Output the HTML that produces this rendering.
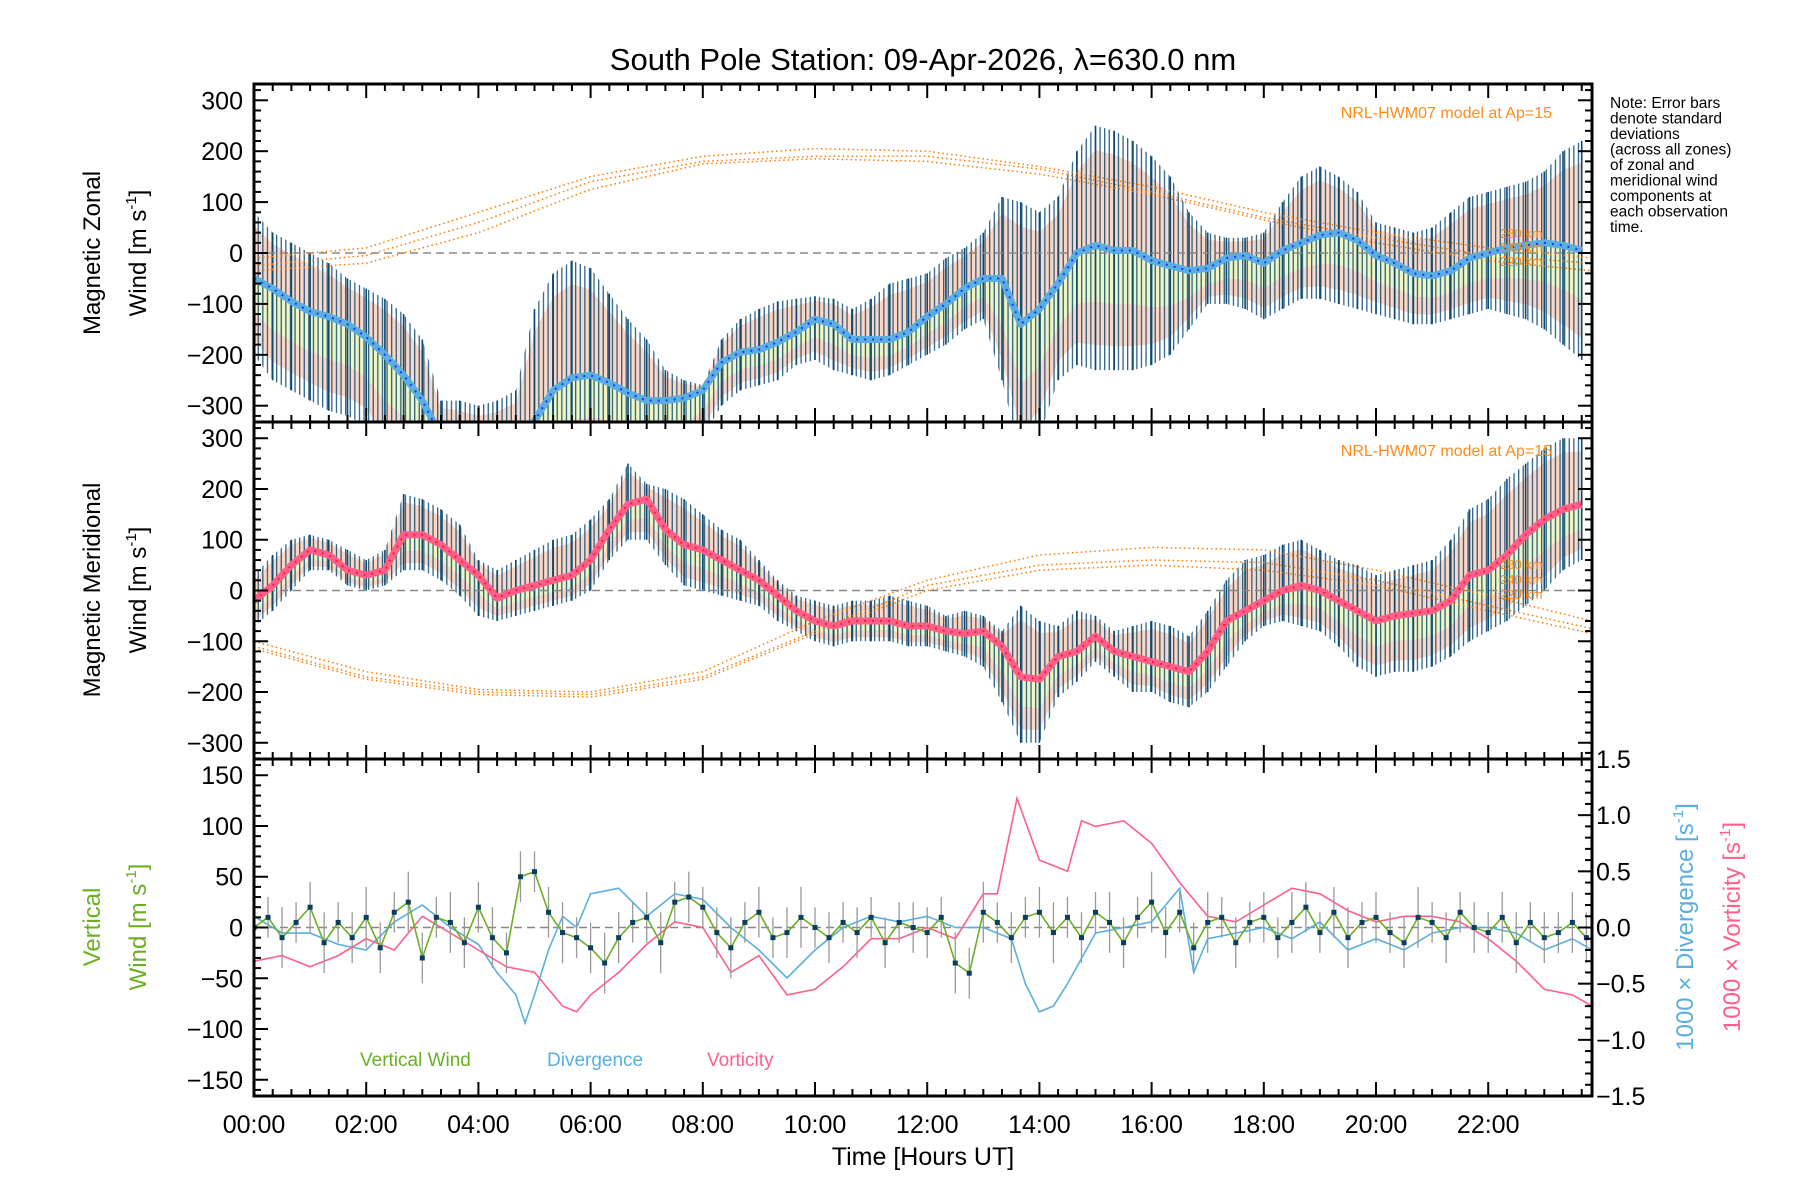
<!DOCTYPE html>
<html><head><meta charset="utf-8"><title>South Pole Station winds</title>
<style>
html,body{margin:0;padding:0;background:#fff;}
svg{display:block;font-family:"Liberation Sans",sans-serif;}
</style></head>
<body>
<svg id="chart" width="1800" height="1200" viewBox="0 0 1800 1200" xmlns="http://www.w3.org/2000/svg">
<defs>
<pattern id="hatch" width="4.6" height="10" patternUnits="userSpaceOnUse">
<rect x="0" y="0" width="1.3" height="10" fill="#0b4a72"/>
</pattern>
<clipPath id="clip1"><rect x="254" y="84" width="1338" height="338"/></clipPath>
<clipPath id="clip2"><rect x="254" y="422" width="1338" height="337"/></clipPath>
<clipPath id="clip3"><rect x="254" y="759" width="1338" height="337"/></clipPath>
</defs>
<rect x="0" y="0" width="1800" height="1200" fill="#fff"/>
<text x="923" y="70" font-size="31" text-anchor="middle">South Pole Station: 09-Apr-2026, λ=630.0 nm</text>
<g id="g1" clip-path="url(#clip1)"></g>
<g id="g2" clip-path="url(#clip2)"></g>
<g id="g3" clip-path="url(#clip3)"></g>
<g id="axes"></g>

<text transform="translate(100,253) rotate(-90)" font-size="24" text-anchor="middle">Magnetic Zonal</text>
<text transform="translate(146,253) rotate(-90)" font-size="24" text-anchor="middle">Wind [m s<tspan font-size="15" dy="-10">-1</tspan><tspan dy="10">]</tspan></text>
<text transform="translate(100,590) rotate(-90)" font-size="24" text-anchor="middle">Magnetic Meridional</text>
<text transform="translate(146,590) rotate(-90)" font-size="24" text-anchor="middle">Wind [m s<tspan font-size="15" dy="-10">-1</tspan><tspan dy="10">]</tspan></text>
<text transform="translate(100,927) rotate(-90)" font-size="24" text-anchor="middle" fill="#6ab023">Vertical</text>
<text transform="translate(146,927) rotate(-90)" font-size="24" text-anchor="middle" fill="#6ab023">Wind [m s<tspan font-size="15" dy="-10">-1</tspan><tspan dy="10">]</tspan></text>
<text transform="translate(1693,927) rotate(-90)" font-size="24" text-anchor="middle" fill="#5aafe0">1000 × Divergence [s<tspan font-size="15" dy="-10">-1</tspan><tspan dy="10">]</tspan></text>
<text transform="translate(1740,927) rotate(-90)" font-size="24" text-anchor="middle" fill="#ff5f8a">1000 × Vorticity [s<tspan font-size="15" dy="-10">-1</tspan><tspan dy="10">]</tspan></text>
<text x="923" y="1165" font-size="25" text-anchor="middle">Time [Hours UT]</text>

<g font-size="15.5">
<text x="1610" y="108">Note: Error bars</text>
<text x="1610" y="123.5">denote standard</text>
<text x="1610" y="139">deviations</text>
<text x="1610" y="154.5">(across all zones)</text>
<text x="1610" y="170">of zonal and</text>
<text x="1610" y="185.5">meridional wind</text>
<text x="1610" y="201">components at</text>
<text x="1610" y="216.5">each observation</text>
<text x="1610" y="232">time.</text>
</g>
<text x="1552" y="118" font-size="16" fill="#ff8c1a" text-anchor="end">NRL-HWM07 model at Ap=15</text>
<text x="1552" y="456" font-size="16" fill="#ff8c1a" text-anchor="end">NRL-HWM07 model at Ap=15</text>
<g font-size="13" fill="#ff8c1a">
<text x="1500" y="238">280 km</text><text x="1500" y="252">240 km</text><text x="1500" y="266">220 km</text>
<text x="1500" y="569">280 km</text><text x="1500" y="584">240 km</text><text x="1500" y="599">220 km</text>
</g>
<g font-size="19">
<text x="360" y="1066" fill="#6ab023">Vertical Wind</text>
<text x="547" y="1066" fill="#5aafe0">Divergence</text>
<text x="707" y="1066" fill="#ff5f8a">Vorticity</text>
</g>
</svg>
<script>
// ---- data (20-minute samples, hours = index/3) ----
const zonalCenter = [-50,-70,-95,-115,-125,-140,-165,-200,-240,-290,-360,-390,-400,-400,-390,-330,-270,-245,-240,-255,-275,-290,-290,-285,-270,-215,-195,-190,-175,-155,-130,-140,-170,-170,-170,-155,-125,-100,-70,-50,-50,-140,-110,-60,0,15,5,5,-15,-25,-35,-30,-10,-5,-20,5,20,35,40,25,-5,-20,-40,-45,-35,-10,0,10,15,20,15,5];
const zonalUpper = [80,40,20,0,-20,-50,-70,-90,-120,-170,-290,-290,-300,-290,-270,-110,-40,-15,-30,-80,-130,-170,-230,-250,-260,-170,-130,-110,-95,-90,-85,-90,-110,-90,-60,-50,-40,-10,10,40,110,100,80,110,200,250,240,220,190,150,80,40,30,30,40,100,150,170,150,120,60,50,40,50,80,110,120,130,140,160,200,220];
const zonalLower = [-200,-250,-270,-290,-310,-320,-340,-400,-420,-450,-460,-480,-480,-480,-470,-460,-440,-430,-420,-420,-430,-430,-420,-400,-360,-300,-270,-260,-250,-220,-210,-230,-240,-250,-240,-220,-200,-180,-150,-130,-250,-400,-360,-250,-220,-230,-230,-230,-220,-200,-150,-100,-100,-110,-130,-110,-90,-90,-100,-110,-120,-130,-140,-140,-130,-120,-110,-120,-130,-150,-180,-210];
const meridCenter = [-20,10,50,80,70,40,30,40,110,110,90,60,30,-15,0,10,20,30,60,120,170,180,120,90,80,60,40,20,-10,-40,-60,-70,-60,-60,-60,-70,-70,-80,-85,-80,-110,-170,-175,-130,-120,-90,-120,-130,-140,-150,-160,-120,-60,-40,-20,0,10,0,-20,-40,-60,-50,-45,-40,-20,30,40,70,110,140,160,170];
const meridUpper = [30,70,100,110,100,80,60,80,190,180,160,130,60,40,60,80,100,110,140,180,250,210,200,180,150,120,100,60,20,-10,-20,-30,-20,-20,-10,-20,-30,-50,-40,-50,-80,-30,-60,-70,-40,-50,-80,-70,-60,-70,-90,-40,20,60,70,90,100,80,60,50,30,40,50,60,100,160,180,220,250,280,300,300];
const meridLower = [-70,-40,0,40,40,10,0,10,40,40,20,-10,-50,-60,-50,-40,-30,-20,0,60,100,100,50,10,0,-10,-20,-30,-60,-80,-100,-110,-100,-100,-100,-110,-110,-120,-130,-150,-220,-300,-300,-210,-180,-140,-170,-200,-200,-220,-230,-200,-150,-100,-70,-60,-70,-80,-110,-150,-170,-160,-160,-150,-130,-100,-80,-60,-30,0,40,60];
// HWM07 model curves (2-hour samples, last at 23.85 h)
const hwmHours = [0,2,4,6,8,10,12,14,16,18,20,22,23.85];
const hwmZonal280 = [-10,10,80,150,190,205,200,170,130,80,40,10,-10];
const hwmZonal240 = [-25,-5,60,140,180,190,190,165,120,70,30,-5,-20];
const hwmZonal220 = [-35,-20,40,125,175,185,180,155,115,65,20,-15,-35];
const hwmMerid280 = [-100,-160,-195,-200,-160,-60,20,70,85,80,40,-10,-60];
const hwmMerid240 = [-110,-170,-200,-205,-170,-80,10,50,60,55,20,-30,-75];
const hwmMerid220 = [-115,-175,-205,-210,-175,-85,0,40,50,40,10,-40,-85];
// vertical wind (15-minute samples, hours = index/4)
const vertWind = [0,10,-10,5,20,-15,5,-10, 10,-20,15,25,-30,10,5,-15, 20,-10,-25,50,55,15,-5,-10, -20,-35,-10,5,10,-15,25,30, 20,-5,-20,5,15,-10,-5,10, 0,-10,5,-5,10,-15,5,0, -5,10,-35,-45,15,5,-10,10, 15,-5,10,-10,15,5,-15,10, 25,-5,15,-20,5,10,-15,5, 10,-10,5,20,-5,15,-10,5, 10,-5,-15,10,5,-10,15,0, -5,10,-15,5,-10,-5,5,-10];
const vertErr = [25,20,30,20,25,30,20,25, 30,25,20,30,25,20,30,25, 25,30,20,25,20,25,30,20, 25,30,25,20,25,30,20,25, 20,25,30,20,25,20,25,30, 20,25,20,25,20,25,20,25, 25,20,30,25,30,20,25,20, 25,30,20,25,20,30,25,20, 30,25,20,25,30,20,25,20, 25,20,30,25,20,25,30,20, 25,20,25,30,20,25,20,25, 20,25,30,20,25,20,30,25];
// divergence & vorticity (x1000 s^-1)
const divHours = [0,0.5,1,1.5,2,2.5,3,3.5,4,4.33,4.67,4.83,5,5.25,5.5,5.75,6,6.5,7,7.5,8,8.5,9,9.5,10,10.5,11,11.5,12,12.5,13,13.5,13.75,14,14.25,14.5,15,15.5,16,16.5,16.75,17,17.5,18,18.5,19,19.5,20,20.5,21,21.5,22,22.5,23,23.5,23.85];
const divVals = [0.1,-0.05,-0.05,-0.15,-0.2,0.05,0.2,0.0,-0.15,-0.4,-0.6,-0.85,-0.6,-0.2,0.1,0.0,0.3,0.35,0.1,0.3,0.25,0.0,-0.2,-0.45,-0.2,0.0,0.1,0.05,0.1,0.0,0.0,-0.1,-0.5,-0.75,-0.7,-0.5,-0.05,0.0,0.05,0.35,-0.4,-0.1,-0.05,0.0,-0.1,0.05,-0.2,-0.1,-0.2,-0.05,0.0,0.0,-0.05,-0.2,-0.1,-0.2];
const vortHours = [0,0.5,1,1.5,2,2.5,3,3.5,4,4.5,5,5.5,5.75,6,6.5,7,7.5,8,8.5,9,9.5,10,10.5,11,11.5,12,12.5,13,13.25,13.6,14,14.5,14.75,15,15.5,16,16.5,17,17.5,18,18.5,19,19.5,20,20.5,21,21.5,22,22.5,23,23.5,23.85];
const vortVals = [-0.3,-0.25,-0.35,-0.25,-0.1,-0.2,0.1,-0.05,-0.2,-0.35,-0.4,-0.7,-0.75,-0.6,-0.4,-0.15,0.05,0.0,-0.4,-0.25,-0.6,-0.55,-0.35,-0.1,-0.1,0.0,-0.1,0.3,0.3,1.15,0.6,0.5,0.95,0.9,0.95,0.75,0.4,0.1,0.05,0.2,0.35,0.3,0.15,0.05,0.1,0.1,0.05,-0.1,-0.3,-0.55,-0.6,-0.7];
const xTickLabels = ["00:00","02:00","04:00","06:00","08:00","10:00","12:00","14:00","16:00","18:00","20:00","22:00"];
const windTicks = [-300,-200,-100,0,100,200,300];
const vertTicks = [-150,-100,-50,0,50,100,150];
const rightTicks = ["-1.5","-1.0","-0.5","0.0","0.5","1.0","1.5"];

const NS = "http://www.w3.org/2000/svg";
const L = 254, R = 1592, TMAX = 23.85;
const X = t => L + t * (R - L) / TMAX;
const P1 = v => 253 - v * 169 / 332;
const P2 = v => 590.5 - v * 168.5 / 332;
const P3 = v => 927.5 - v * 168.5 / 166;
const P3R = v => 927.5 - v * 168.5 / 1.5;

function mk(tag, attrs, parent) {
  const e = document.createElementNS(NS, tag);
  for (const k in attrs) e.setAttribute(k, attrs[k]);
  parent.appendChild(e);
  return e;
}
function pts(ts, vs, Y) { return ts.map((t, i) => X(t).toFixed(1) + "," + Y(vs[i]).toFixed(1)).join(" "); }

function windPanel(g, center, upper, lower, Y, hwm, lineColor, dotColor, prefix) {
  const ts = center.map((_, i) => i / 3);
  const bu = center.map((c, i) => c + 0.8 * (upper[i] - c));
  const bl = center.map((c, i) => c + 0.8 * (lower[i] - c));
  const band = mk("polygon", {points: pts(ts, bu, Y) + " " + pts(ts.slice().reverse(), bl.slice().reverse(), Y), fill: "#fdd3bf", opacity: "0.9"}, g);
  
  
  const by = center.map((c, i) => c + 0.45 * (lower[i] - c));
  const band2 = mk("polygon", {points: pts(ts, center, Y) + " " + pts(ts.slice().reverse(), by.slice().reverse(), Y), fill: "#eef8c4", opacity: "0.9"}, g);
  
  
  const env = mk("polygon", {points: pts(ts, upper, Y) + " " + pts(ts.slice().reverse(), lower.slice().reverse(), Y), fill: "url(#hatch)", opacity: "0.85"}, g);
  
  
  ts.forEach((t, i) => {
    const b = mk("line", {x1: X(t), x2: X(t), y1: Y(upper[i]), y2: Y(lower[i]), stroke: "#0b4a72", "stroke-width": "1.6"}, g);
    
    
  });
  const z = mk("line", {x1: L, x2: R, y1: Y(0), y2: Y(0), stroke: "#888", "stroke-width": "1.5", "stroke-dasharray": "8,5"}, g);
  
  
  hwm.forEach((arr, k) => {
    const h = mk("polyline", {points: pts(hwmHours, arr, Y), fill: "none", stroke: "#ff7a00", "stroke-width": "1.5", "stroke-dasharray": "1.5,3"}, g);
    
    
  });
  const ln = mk("polyline", {points: pts(ts, center, Y), fill: "none", stroke: lineColor, "stroke-width": "7", "stroke-linejoin": "round"}, g);
  
  
  const ln2 = mk("polyline", {points: pts(ts, center, Y), fill: "none", stroke: dotColor, "stroke-width": "2", "stroke-dasharray": "2,6"}, g);
  
  
}
windPanel(document.getElementById("g1"), zonalCenter, zonalUpper, zonalLower, P1, [hwmZonal280, hwmZonal240, hwmZonal220], "#5aafe0", "#2233ff", "zonal");
windPanel(document.getElementById("g2"), meridCenter, meridUpper, meridLower, P2, [hwmMerid280, hwmMerid240, hwmMerid220], "#ff5f8a", "#ff2020", "meridional");

(function () {
  const g = document.getElementById("g3");
  const z = mk("line", {x1: L, x2: R, y1: P3(0), y2: P3(0), stroke: "#888", "stroke-width": "1.5", "stroke-dasharray": "8,5"}, g);
  
  
  const dv = mk("polyline", {points: pts(divHours, divVals, P3R), fill: "none", stroke: "#5aafe0", "stroke-width": "1.6"}, g);
  
  
  const vo = mk("polyline", {points: pts(vortHours, vortVals, P3R), fill: "none", stroke: "#ff5f8a", "stroke-width": "1.6"}, g);
  
  
  const ts = vertWind.map((_, i) => i / 4);
  ts.forEach((t, i) => {
    const e = mk("line", {x1: X(t), x2: X(t), y1: P3(vertWind[i] + vertErr[i]), y2: P3(vertWind[i] - vertErr[i]), stroke: "#999", "stroke-width": "1.3"}, g);
    
    
  });
  const vw = mk("polyline", {points: pts(ts, vertWind, P3), fill: "none", stroke: "#6ab023", "stroke-width": "1.6"}, g);
  
  
  ts.forEach((t, i) => {
    const p = mk("rect", {x: X(t) - 2.5, y: P3(vertWind[i]) - 2.5, width: 5, height: 5, fill: "#0b3d5e"}, g);
    
    
  });
})();

(function () {
  const a = document.getElementById("axes");
  const panels = [[84, 422, P1, windTicks, 20, 332], [422, 759, P2, windTicks, 20, 332], [759, 1096, P3, vertTicks, 10, 166]];
  panels.forEach((p, pi) => {
    const [top, bot, Y, ticks, minor, lim] = p;
    const fr = mk("rect", {x: L, y: top, width: R - L, height: bot - top, fill: "none", stroke: "#000", "stroke-width": "3"}, a);
    
    
    for (let m = 0; m * 20 / 60 <= TMAX; m++) {
      const t = m / 3, maj = m % 6 === 0, len = maj ? 14 : 7;
      mk("line", {x1: X(t), x2: X(t), y1: top, y2: top + len, stroke: "#000", "stroke-width": "2"}, a);
      mk("line", {x1: X(t), x2: X(t), y1: bot, y2: bot - len, stroke: "#000", "stroke-width": "2"}, a);
    }
    for (let v = -Math.floor(lim / minor) * minor; v <= lim; v += minor) {
      const maj = ticks.indexOf(v) >= 0, len = maj ? 14 : 7;
      mk("line", {x1: L, x2: L + len, y1: Y(v), y2: Y(v), stroke: "#000", "stroke-width": "2"}, a);
      if (pi < 2) mk("line", {x1: R, x2: R - len, y1: Y(v), y2: Y(v), stroke: "#000", "stroke-width": "2"}, a);
    }
    ticks.forEach(v => {
      const tl = mk("text", {x: 243, y: Y(v) + 9, "font-size": "25", "text-anchor": "end"}, a);
      tl.textContent = (v < 0 ? "−" + (-v) : String(v));
      
      
    });
  });
  for (let k = -15; k <= 15; k++) {
    const v = k / 10, maj = k % 5 === 0, len = maj ? 14 : 7;
    mk("line", {x1: R, x2: R - len, y1: P3R(v), y2: P3R(v), stroke: "#000", "stroke-width": "2"}, a);
  }
  rightTicks.forEach(s => {
    const v = parseFloat(s);
    const tl = mk("text", {x: 1596, y: P3R(v) + 9, "font-size": "25"}, a);
    tl.textContent = s.replace("-", "−");
    
    
  });
  xTickLabels.forEach((s, i) => {
    const tl = mk("text", {x: X(i * 2), y: 1133, "font-size": "25", "text-anchor": "middle"}, a);
    tl.textContent = s;
    
    
  });
})();
</script>
</body></html>
